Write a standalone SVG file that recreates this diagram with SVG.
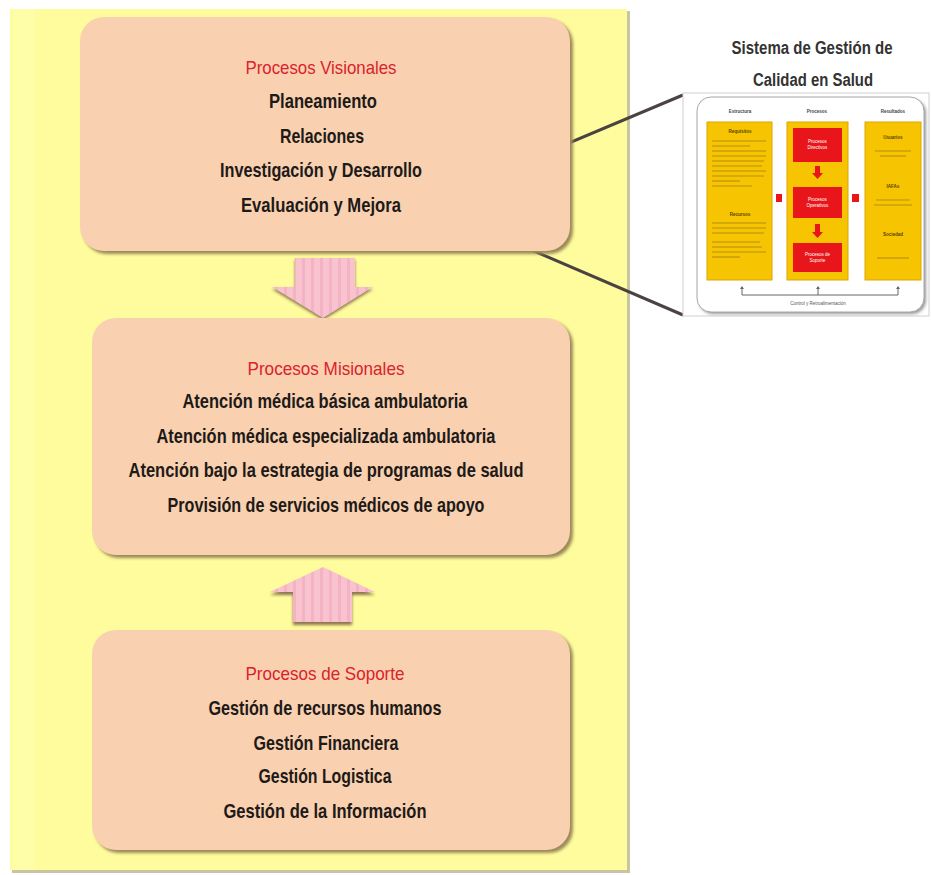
<svg xmlns="http://www.w3.org/2000/svg" width="931" height="875" viewBox="0 0 931 875">
<defs>
<style>
.t{font-family:"Liberation Sans Narrow","Liberation Sans",Arial,sans-serif;text-anchor:middle}
.head{fill:#D9222D;font-size:19px}
.item{fill:#1e1a18;font-size:20.5px;font-weight:bold}
.ttl{fill:#333;font-size:18px;font-weight:bold}
.box{fill:#F9D1B0}
.bshadow{fill:#9C8A5A;filter:url(#blur)}
.arrow{fill:url(#pinkstripes)}
.ashadow{fill:#8C7550;filter:url(#blur)}
.col{fill:#F6C400;stroke:#DDA600;stroke-width:1}
.red{fill:#E8161B}
.tiny{font-family:"Liberation Sans",Arial,sans-serif;font-size:4.5px;text-anchor:middle}
.tl{stroke:#A07D12;stroke-width:1.1;opacity:.75}
</style>
<filter id="blur" x="-10%" y="-10%" width="120%" height="120%"><feGaussianBlur stdDeviation="1.6"/></filter>
<pattern id="pinkstripes" width="9" height="10" patternUnits="userSpaceOnUse"><rect width="9" height="10" fill="#F8C2CF"/><rect x="5" width="3" height="10" fill="#F4B3C4"/></pattern>
</defs>
<rect width="931" height="875" fill="#ffffff"/>
<g id="panel">
<rect x="12" y="11" width="618" height="862" fill="#C9C4A2"/>
<rect x="10" y="9" width="617" height="861" fill="#FEFC9C"/>
<rect x="13" y="9" width="22" height="861" fill="#FFFFC2" opacity="0.3"/>
</g>
<g id="connectors">
<path class="ashadow" d="M295,260 H355 V289 H373 L323,320 L272,289 H295 Z"/>
<path class="arrow" d="M295,258 H355 V287 H373 L323,318 L272,287 H295 Z"/>
<path class="ashadow" d="M323,570 L375,595 H352 V625 H293 V595 H270 Z"/>
<path class="arrow" d="M323,567 L375,592 H352 V622 H293 V592 H270 Z"/>
<polyline points="683,95 457,190 457,218 683,315" fill="none" stroke="#4B4242" stroke-width="3" stroke-linejoin="miter"/>
</g>
<g id="visionales">
<rect class="bshadow" x="83" y="20" width="490" height="234" rx="24"/>
<rect class="box" x="80" y="17" width="490" height="234" rx="24"/>
<text class="t head" x="321" y="74" textLength="151" lengthAdjust="spacingAndGlyphs">Procesos Visionales</text>
<text class="t item" x="323" y="108" textLength="108" lengthAdjust="spacingAndGlyphs">Planeamiento</text>
<text class="t item" x="322" y="143" textLength="84" lengthAdjust="spacingAndGlyphs">Relaciones</text>
<text class="t item" x="321" y="177" textLength="202" lengthAdjust="spacingAndGlyphs">Investigación y Desarrollo</text>
<text class="t item" x="321" y="212" textLength="160" lengthAdjust="spacingAndGlyphs">Evaluación  y Mejora</text>
</g>
<g id="misionales">
<rect class="bshadow" x="95" y="321" width="478" height="237" rx="24"/>
<rect class="box" x="92" y="318" width="478" height="237" rx="24"/>
<text class="t head" x="326" y="375" textLength="157" lengthAdjust="spacingAndGlyphs">Procesos Misionales</text>
<text class="t item" x="325" y="408" textLength="285" lengthAdjust="spacingAndGlyphs">Atención médica básica ambulatoria</text>
<text class="t item" x="326" y="443" textLength="339" lengthAdjust="spacingAndGlyphs">Atención médica especializada ambulatoria</text>
<text class="t item" x="326" y="477" textLength="395" lengthAdjust="spacingAndGlyphs">Atención bajo la estrategia de programas de salud</text>
<text class="t item" x="326" y="512" textLength="317" lengthAdjust="spacingAndGlyphs">Provisión de servicios médicos de apoyo</text>
</g>
<g id="soporte">
<rect class="bshadow" x="95" y="633" width="478" height="220" rx="24"/>
<rect class="box" x="92" y="630" width="478" height="220" rx="24"/>
<text class="t head" x="325" y="680" textLength="159" lengthAdjust="spacingAndGlyphs">Procesos de Soporte</text>
<text class="t item" x="325" y="715" textLength="233" lengthAdjust="spacingAndGlyphs">Gestión de recursos humanos</text>
<text class="t item" x="326" y="750" textLength="145" lengthAdjust="spacingAndGlyphs">Gestión Financiera</text>
<text class="t item" x="325" y="783" textLength="133" lengthAdjust="spacingAndGlyphs">Gestión Logistica</text>
<text class="t item" x="325" y="818" textLength="203" lengthAdjust="spacingAndGlyphs">Gestión de la Información</text>
</g>
<g id="titulo">
<text class="t ttl" x="812" y="54" textLength="161" lengthAdjust="spacingAndGlyphs">Sistema de Gestión de</text>
<text class="t ttl" x="813" y="86" textLength="120" lengthAdjust="spacingAndGlyphs">Calidad en Salud</text>
</g>
<g id="thumbnail">
<rect x="683" y="93" width="246" height="223" fill="#ffffff" stroke="#CFCFCF" stroke-width="1"/>
<rect x="699" y="99" width="227" height="215" rx="14" fill="#9a9a9a" filter="url(#blur)"/>
<rect x="697" y="97" width="227" height="215" rx="14" fill="#ffffff" stroke="#A8A8A8" stroke-width="1"/>
<text class="tiny" x="740" y="113" font-weight="bold" fill="#444">Estructura</text>
<text class="tiny" x="817" y="113" font-weight="bold" fill="#444">Procesos</text>
<text class="tiny" x="893" y="113" font-weight="bold" fill="#444">Resultados</text>
<rect class="col" x="707" y="122" width="65" height="158"/>
<rect class="col" x="787" y="122" width="61" height="158"/>
<rect class="col" x="865" y="122" width="56" height="158"/>
<rect class="red" x="793" y="128" width="49" height="34"/>
<rect class="red" x="793" y="187" width="49" height="31"/>
<rect class="red" x="793" y="243" width="49" height="29"/>
<text class="tiny" x="817.5" y="143" fill="#fff">Procesos</text>
<text class="tiny" x="817.5" y="149" fill="#fff">Directivos</text>
<text class="tiny" x="817.5" y="201" fill="#fff">Procesos</text>
<text class="tiny" x="817.5" y="207" fill="#fff">Operativos</text>
<text class="tiny" x="817.5" y="256" fill="#fff">Procesos de</text>
<text class="tiny" x="817.5" y="262" fill="#fff">Soporte</text>
<path class="red" d="M815,166 h5 v7 h3 l-5.5,6 l-5.5,-6 h3 Z"/>
<path class="red" d="M815,224 h5 v8 h3 l-5.5,6 l-5.5,-6 h3 Z"/>
<rect class="red" x="776" y="194" width="6" height="8"/>
<rect class="red" x="852" y="194" width="7" height="8"/>
<text class="tiny" x="740" y="133" font-weight="bold" fill="#5a4300">Requisitos</text>
<g class="tl">
<line x1="712" y1="141" x2="766" y2="141"/><line x1="712" y1="146" x2="750" y2="146"/>
<line x1="712" y1="151" x2="766" y2="151"/><line x1="712" y1="156" x2="766" y2="156"/>
<line x1="712" y1="161" x2="764" y2="161"/><line x1="712" y1="166" x2="762" y2="166"/>
<line x1="712" y1="171" x2="766" y2="171"/><line x1="712" y1="176" x2="764" y2="176"/>
<line x1="712" y1="181" x2="740" y2="181"/><line x1="712" y1="186" x2="752" y2="186"/>
<line x1="712" y1="223" x2="766" y2="223"/><line x1="712" y1="228" x2="766" y2="228"/>
<line x1="712" y1="233" x2="764" y2="233"/><line x1="712" y1="242" x2="760" y2="242"/>
<line x1="712" y1="247" x2="762" y2="247"/><line x1="712" y1="252" x2="766" y2="252"/>
<line x1="712" y1="257" x2="740" y2="257"/>
<line x1="875" y1="151" x2="911" y2="151"/><line x1="880" y1="156" x2="906" y2="156"/>
<line x1="876" y1="200" x2="910" y2="200"/><line x1="874" y1="205" x2="912" y2="205"/>
<line x1="877" y1="258" x2="909" y2="258"/>
</g>
<text class="tiny" x="740" y="216" font-weight="bold" fill="#5a4300">Recursos</text>
<text class="tiny" x="893" y="139" font-weight="bold" fill="#5a4300">Usuarios</text>
<text class="tiny" x="893" y="188" font-weight="bold" fill="#5a4300">IAFAs</text>
<text class="tiny" x="893" y="236" font-weight="bold" fill="#5a4300">Sociedad</text>
<path d="M742,287 V295 H898 V287 M818,295 V287" fill="none" stroke="#666" stroke-width="1"/>
<path d="M740,289 l2,-3 l2,3 Z M816,289 l2,-3 l2,3 Z M896,289 l2,-3 l2,3 Z" fill="#666"/>
<text class="tiny" x="818" y="305" fill="#555">Control y Retroalimentación</text>
</g>
</svg>
